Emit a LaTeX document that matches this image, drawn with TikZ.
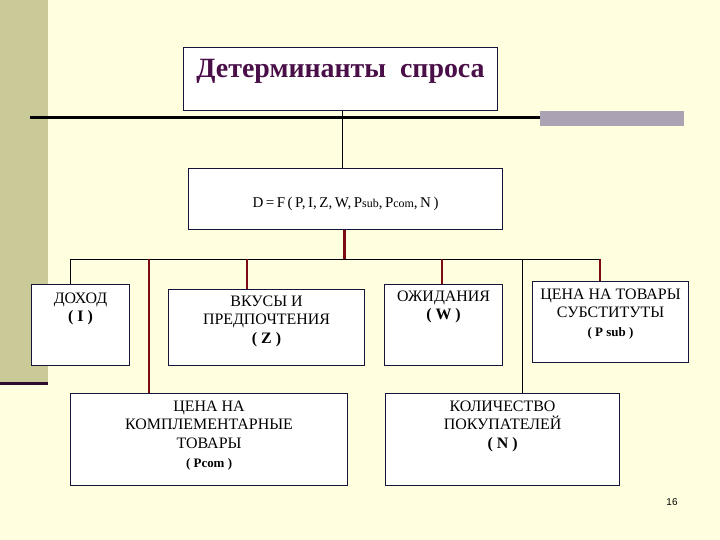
\documentclass[tikz,border=0pt]{standalone}
\usepackage{fontspec}
\setmainfont{Liberation Serif}
\newfontfamily\pagenumfont{Liberation Sans}
\definecolor{bgcol}{HTML}{FFFFE0}
\definecolor{stripcol}{HTML}{CACA98}
\definecolor{stripline}{HTML}{2E0A2E}
\definecolor{barcol}{HTML}{ABA3B3}
\definecolor{titlecol}{HTML}{4A0F48}
\definecolor{boxline}{HTML}{15153A}
\definecolor{redcol}{HTML}{7A0A14}
\tikzset{
  fbox/.style={draw=boxline, fill=white, line width=1.1bp, inner sep=0pt, anchor=north west},
  thinline/.style={draw=black, line width=0.9bp},
  redline/.style={draw=redcol, line width=2.6bp},
  boxtext/.style={font=\fontsize{16}{19}\selectfont}
}
\newcommand{\boxcontent}[4]{\parbox[t][#2bp][t]{#1bp}{\centering\rule{0pt}{#3bp}#4}}
\begin{document}
\begin{tikzpicture}[x=1bp,y=-1bp]
\useasboundingbox (0,0) rectangle (720,540);
\fill[bgcol] (0,0) rectangle (720,540);
\fill[stripcol] (0,0) rectangle (48,382);
\fill[stripline] (0,382) rectangle (48,385);
\draw[line width=3bp] (30,117.5) -- (540,117.5);
\fill[barcol] (540,111) rectangle (684,126);

% title
\node[fbox, font=\fontsize{28}{30}\selectfont\bfseries, text=titlecol] (title) at (183,47)
  {\boxcontent{314}{63}{29.5}{Детерминанты\ \ спроса}};
% formula
\node[fbox, font=\fontsize{15}{18}\selectfont] (D) at (188,168)
  {\boxcontent{314}{61}{38.5}{\spaceskip=0.17em\relax D = F ( P, I, Z, W, P{\fontsize{12}{14}\selectfont sub}, P{\fontsize{12}{14}\selectfont com}, N )}};

% first row
\node[fbox, boxtext] (inc) at (31,284)
  {\boxcontent{98}{81}{18.5}{ДОХОД\\ \textbf{( I )}}};
\node[fbox, boxtext] (tastes) at (168,289)
  {\boxcontent{196}{76}{16.5}{ВКУСЫ И\\ ПРЕДПОЧТЕНИЯ\\ \textbf{( Z )}}};
\node[fbox, boxtext] (expect) at (384,284)
  {\boxcontent{118}{81}{16.5}{ОЖИДАНИЯ\\ \textbf{( W )}}};
\node[fbox, boxtext] (subst) at (532,281)
  {\boxcontent{156}{81}{17.5}{ЦЕНА НА ТОВАРЫ\\ СУБСТИТУТЫ\\ {\fontsize{13}{19}\selectfont\bfseries ( P sub )}}};
% second row
\node[fbox, boxtext] (compl) at (70,393)
  {\boxcontent{277}{92}{17.5}{ЦЕНА НА\\ КОМПЛЕМЕНТАРНЫЕ\\ ТОВАРЫ\\ {\fontsize{13}{19}\selectfont\bfseries ( Pcom )}}};
\node[fbox, boxtext] (buyers) at (385,393)
  {\boxcontent{234}{92}{17.5}{КОЛИЧЕСТВО\\ ПОКУПАТЕЛЕЙ\\ \textbf{( N )}}};

% connectors
\coordinate (busL) at (70,259);
\coordinate (busR) at (600,259);
\coordinate (j1) at (149,259);
\coordinate (j2) at (247,259);
\coordinate (j3) at (442,259);
\coordinate (j4) at (522,259);

\draw[thinline] ([xshift=2bp]title.south) -- ([xshift=2bp]title.south |- D.north);
\draw[thinline] (busL) -- (busR);
\draw[redline] ([xshift=-1bp]D.south) -- ([xshift=-1bp]D.south |- busL);
\draw[thinline] (busL) -- (busL |- inc.north);
\draw[redline] (j1) -- (j1 |- compl.north);
\draw[redline] (j2) -- (j2 |- tastes.north);
\draw[redline] (j3) -- (j3 |- expect.north);
\draw[thinline] (j4) -- (j4 |- buyers.north);
\draw[redline] (busR) -- (busR |- subst.north);

\node[font=\pagenumfont\fontsize{10}{11}\selectfont] (pg) at (672,502) {16};
\end{tikzpicture}
\end{document}
